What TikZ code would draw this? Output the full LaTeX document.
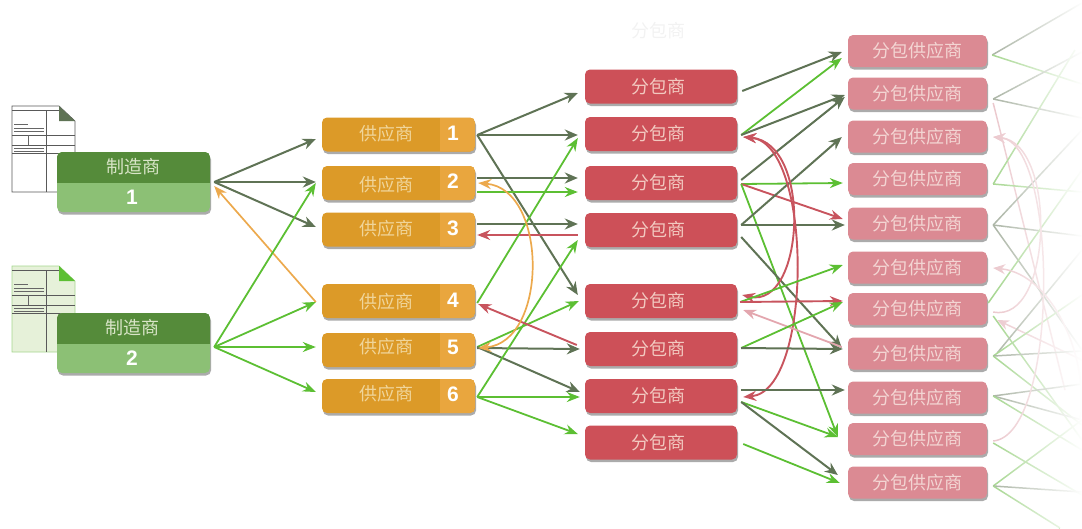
\documentclass[tikz,border=0pt]{standalone}
\usepackage{fontspec}
\usepackage{xcolor}
\usepackage{tikz}
\usetikzlibrary{arrows.meta,shadows,fadings}
\newfontfamily\cjk{Noto Sans CJK SC}[Scale=1]
\newfontfamily\numfont{Liberation Sans}
\definecolor{C558B3A}{HTML}{558B3A}
\definecolor{C8CC075}{HTML}{8CC075}
\definecolor{CDC9A28}{HTML}{DC9A28}
\definecolor{CE9A63E}{HTML}{E9A63E}
\definecolor{CCD5058}{HTML}{CD5058}
\definecolor{CDB8A93}{HTML}{DB8A93}
\definecolor{C5F7355}{HTML}{5F7355}
\definecolor{C5CBF33}{HTML}{5CBF33}
\definecolor{CC8545E}{HTML}{C8545E}
\definecolor{CECA94D}{HTML}{ECA94D}
\definecolor{CE3A6AE}{HTML}{E3A6AE}
\definecolor{CA9B3A3}{HTML}{A9B3A3}
\definecolor{CA5D68F}{HTML}{A5D68F}
\definecolor{CEBC7CC}{HTML}{EBC7CC}
\definecolor{CE6F1D9}{HTML}{E6F1D9}
\definecolor{CD9E5C8}{HTML}{D9E5C8}
\definecolor{CF0D59A}{HTML}{F0D59A}
\definecolor{CF2C9C0}{HTML}{F2C9C0}
\definecolor{CF3D5D3}{HTML}{F3D5D3}
\tikzset{
  boxbase/.style={rounded corners=5pt,minimum height=34pt,font=\cjk\fontsize{18}{20}\selectfont,
    drop shadow={shadow xshift=1pt,shadow yshift=-2.5pt,fill=black!60,opacity=0.55}},
  mfgbox/.style={boxbase,minimum width=153pt,minimum height=60pt,fill=C8CC075,
    path picture={\fill[C558B3A,sharp corners] (path picture bounding box.north west) rectangle ([yshift=-31pt]path picture bounding box.north east);}},
  supbox/.style={boxbase,minimum width=153pt,fill=CDC9A28,
    path picture={\fill[CE9A63E,sharp corners] ([xshift=-35pt]path picture bounding box.north east) rectangle (path picture bounding box.south east);}},
  subbox/.style={boxbase,minimum width=152pt,fill=CCD5058,text=CF2C9C0},
  subsupbox/.style={boxbase,minimum width=139pt,minimum height=32pt,fill=CDB8A93,text=CF3D5D3},
  mfglabel/.style={font=\cjk\fontsize{18}{20}\selectfont,text=CD9E5C8},
  suplabel/.style={font=\cjk\fontsize{18}{20}\selectfont,text=CF0D59A},
  numlabel/.style={font=\numfont\bfseries\fontsize{21}{22}\selectfont,text=white},
  tipboth/.style={{Stealth[length=13pt,width=10pt]}-{Stealth[length=13pt,width=10pt]}},
  darkline/.style={-{Stealth[length=13pt,width=11pt]},line width=2pt,draw=C5F7355},
  greenline/.style={-{Stealth[length=13pt,width=10pt]},line width=1.8pt,draw=C5CBF33},
  redline/.style={-{Stealth[length=13pt,width=10pt]},line width=1.9pt,draw=CC8545E},
  orangeline/.style={-{Stealth[length=13pt,width=10pt]},line width=1.7pt,draw=CECA94D},
  pinkline/.style={-{Stealth[length=13pt,width=10pt]},line width=1.8pt,draw=CE3A6AE},
  paledark/.style={-,line width=1.5pt,draw=CA9B3A3},
  palegreen/.style={-,line width=1.5pt,draw=CA5D68F},
  palepink/.style={-,line width=1.5pt,draw=CEBC7CC},
  palecurve/.style={{Stealth[length=12pt,width=10pt]}-,line width=1.5pt,draw=CEBC7CC},
  formrule/.style={line width=0.5pt,draw=black!60},
  formthick/.style={line width=0.8pt,draw=black!65},
}
\begin{document}
\begin{tikzpicture}[inner sep=0pt]
\useasboundingbox (0pt,0pt) rectangle (1082pt,-528pt);
% order forms
\begin{scope}
\path [fill=white,draw=black!65,line width=0.7pt] (12pt,-106pt)--(59pt,-106pt)--(75pt,-121pt)--(75pt,-192pt)--(12pt,-192pt)--cycle;
\path [fill=C5F7355] (59pt,-106pt)--(75pt,-121pt)--(59pt,-121pt)--cycle;
\path [formthick] (12pt,-110pt)--(59pt,-110pt);
\path [formthick] (46pt,-110pt)--(46pt,-192pt);
\path [formthick] (12pt,-135pt)--(75pt,-135pt);
\path [formthick] (12pt,-145pt)--(75pt,-145pt);
\path [formthick] (12pt,-153pt)--(75pt,-153pt);
\path [formrule] (28pt,-135pt)--(28pt,-145pt);
\path [formrule] (14pt,-124pt)--(28pt,-124pt);
\path [formrule] (14pt,-128pt)--(44pt,-128pt);
\path [formrule] (14pt,-131pt)--(44pt,-131pt);
\path [formrule] (14pt,-148pt)--(44pt,-148pt);
\path [formrule] (14pt,-151pt)--(44pt,-151pt);
\end{scope}
\begin{scope}[yshift=-160pt]
\path [fill=CE6F1D9,draw=CA5D68F,line width=0.7pt] (12pt,-106pt)--(59pt,-106pt)--(75pt,-121pt)--(75pt,-192pt)--(12pt,-192pt)--cycle;
\path [fill=C5CBF33] (59pt,-106pt)--(75pt,-121pt)--(59pt,-121pt)--cycle;
\path [formthick] (12pt,-110pt)--(59pt,-110pt);
\path [formthick] (46pt,-110pt)--(46pt,-192pt);
\path [formthick] (12pt,-135pt)--(75pt,-135pt);
\path [formthick] (12pt,-145pt)--(75pt,-145pt);
\path [formthick] (12pt,-153pt)--(75pt,-153pt);
\path [formrule] (28pt,-135pt)--(28pt,-145pt);
\path [formrule] (14pt,-124pt)--(28pt,-124pt);
\path [formrule] (14pt,-128pt)--(44pt,-128pt);
\path [formrule] (14pt,-131pt)--(44pt,-131pt);
\path [formrule] (14pt,-148pt)--(44pt,-148pt);
\path [formrule] (14pt,-151pt)--(44pt,-151pt);
\end{scope}
% manufacturers
\node (m1) [mfgbox,at={(133.5pt,-182pt)}] {};
\node (m2) [mfgbox,at={(133.5pt,-343pt)}] {};
\node (m1a) [mfglabel,at={(133pt,-167pt)}] {制造商};
\node (m1b) [numlabel,at={(132pt,-197pt)}] {1};
\node (m2a) [mfglabel,at={(132pt,-328pt)}] {制造商};
\node (m2b) [numlabel,at={(132pt,-358pt)}] {2};
% suppliers
\node (s1) [supbox,at={(398.5pt,-134.5pt)}] {};
\node (s2) [supbox,at={(398.5pt,-183pt)}] {};
\node (s3) [supbox,at={(398.5pt,-229.5pt)}] {};
\node (s4) [supbox,at={(398.5pt,-301pt)}] {};
\node (s5) [supbox,at={(398.5pt,-350pt)}] {};
\node (s6) [supbox,at={(398.5pt,-396pt)}] {};
\node (s1a) [suplabel,at={(386pt,-134pt)}] {供应商};
\node (s2a) [suplabel,at={(386pt,-185pt)}] {供应商};
\node (s3a) [suplabel,at={(386pt,-229pt)}] {供应商};
\node (s4a) [suplabel,at={(386pt,-302pt)}] {供应商};
\node (s5a) [suplabel,at={(386pt,-347pt)}] {供应商};
\node (s6a) [suplabel,at={(386pt,-394pt)}] {供应商};
\node (s1b) [numlabel,at={(453pt,-133pt)}] {1};
\node (s2b) [numlabel,at={(453pt,-181pt)}] {2};
\node (s3b) [numlabel,at={(453pt,-228pt)}] {3};
\node (s4b) [numlabel,at={(453pt,-300pt)}] {4};
\node (s5b) [numlabel,at={(453pt,-347pt)}] {5};
\node (s6b) [numlabel,at={(453pt,-394pt)}] {6};
% subcontractors
\node (t0) [font=\cjk\fontsize{18}{20}\selectfont,text=black!5,at={(658pt,-31pt)}] {分包商};
\node (t1) [subbox,at={(661pt,-86.5pt)}] {\hspace*{-6pt}分包商};
\node (t2) [subbox,at={(661pt,-134pt)}] {\hspace*{-6pt}分包商};
\node (t3) [subbox,at={(661pt,-183pt)}] {\hspace*{-6pt}分包商};
\node (t4) [subbox,at={(661pt,-230pt)}] {\hspace*{-6pt}分包商};
\node (t5) [subbox,at={(661pt,-301pt)}] {\hspace*{-6pt}分包商};
\node (t6) [subbox,at={(661pt,-349pt)}] {\hspace*{-6pt}分包商};
\node (t7) [subbox,at={(661pt,-396pt)}] {\hspace*{-6pt}分包商};
\node (t8) [subbox,at={(661pt,-442.5pt)}] {\hspace*{-6pt}分包商};
% sub-suppliers
\node (u1) [subsupbox,at={(917.5pt,-51pt)}] {分包供应商};
\node (u2) [subsupbox,at={(917.5pt,-93.5pt)}] {分包供应商};
\node (u3) [subsupbox,at={(917.5pt,-136.5pt)}] {分包供应商};
\node (u4) [subsupbox,at={(917.5pt,-179pt)}] {分包供应商};
\node (u5) [subsupbox,at={(917.5pt,-223.5pt)}] {分包供应商};
\node (u6) [subsupbox,at={(917.5pt,-267.5pt)}] {分包供应商};
\node (u7) [subsupbox,at={(917.5pt,-309pt)}] {分包供应商};
\node (u8) [subsupbox,at={(917.5pt,-353.5pt)}] {分包供应商};
\node (u9) [subsupbox,at={(917.5pt,-397.5pt)}] {分包供应商};
\node (u10) [subsupbox,at={(917.5pt,-439pt)}] {分包供应商};
\node (u11) [subsupbox,at={(917.5pt,-482.5pt)}] {分包供应商};
% manufacturer to supplier
\path [darkline]([shift={(4pt,0pt)}]m1.east)--([shift={(-6pt,-4.5pt)}]s1.west);
\path [darkline]([shift={(4pt,0pt)}]m1.east)--([shift={(-6pt,1pt)}]s2.west);
\path [darkline]([shift={(4pt,0pt)}]m1.east)--([shift={(-6pt,2.5pt)}]s3.west);
\path [orangeline]([shift={(-6pt,-1pt)}]s4.west)--([shift={(4pt,-4pt)}]m1.east);
\path [greenline]([shift={(4pt,-4pt)}]m2.east)--([shift={(-6pt,0pt)}]s2.west);
\path [greenline]([shift={(4pt,-4pt)}]m2.east)--([shift={(-6pt,-1pt)}]s4.west);
\path [greenline]([shift={(4pt,-4pt)}]m2.east)--([shift={(-6pt,3pt)}]s5.west);
\path [greenline]([shift={(4pt,-4pt)}]m2.east)--([shift={(-6pt,4pt)}]s6.west);
% supplier to subcontractor
\path [darkline]([shift={(2pt,-0.5pt)}]s1.east)--([shift={(-7pt,-6.5pt)}]t1.west);
\path [darkline]([shift={(2pt,-0.5pt)}]s1.east)--([shift={(-7pt,-1pt)}]t2.west);
\path [darkline]([shift={(2pt,-0.5pt)}]s1.east)--([shift={(-7pt,6pt)}]t5.west);
\path [darkline]([shift={(2pt,5pt)}]s2.east)--([shift={(-7pt,5pt)}]t3.west);
\path [greenline]([shift={(2pt,-9pt)}]s2.east)--([shift={(-7pt,-9pt)}]t3.west);
\path [darkline]([shift={(2pt,5.5pt)}]s3.east)--([shift={(-7pt,6pt)}]t4.west);
\path [redline]([shift={(-7pt,-5pt)}]t4.west)--([shift={(2pt,-5.5pt)}]s3.east);
\path [greenline]([shift={(2pt,-2pt)}]s4.east)--([shift={(-7pt,-4pt)}]t2.west);
\path [greenline]([shift={(2pt,3pt)}]s5.east)--([shift={(-6pt,0pt)}]t5.west);
\path [darkline]([shift={(2pt,2pt)}]s5.east)--([shift={(-5pt,0pt)}]t6.west);
\path [darkline]([shift={(2pt,3pt)}]s5.east)--([shift={(-5pt,4pt)}]t7.west);
\path [greenline]([shift={(2pt,-1pt)}]s6.east)--([shift={(-7pt,-10pt)}]t4.west);
\path [greenline]([shift={(2pt,-1pt)}]s6.east)--([shift={(-5pt,-1pt)}]t7.west);
\path [greenline]([shift={(2pt,-1pt)}]s6.east)--([shift={(-7pt,8.5pt)}]t8.west);
\path [redline]([shift={(-8pt,4pt)}]t6.west)--([shift={(3pt,-3pt)}]s4.east);
\path [orangeline,tipboth]([shift={(3pt,0pt)}]s2.east) .. controls +(70pt,-6pt) and +(70pt,6pt) .. ([shift={(3pt,2pt)}]s5.east);
% subcontractor to sub-supplier
\path [darkline]([shift={(5pt,-4.5pt)}]t1.east)--([shift={(-6pt,-1pt)}]u1.west);
\path [greenline]([shift={(4pt,-1pt)}]t2.east)--([shift={(-6pt,-7pt)}]u1.west);
\path [darkline]([shift={(4pt,-1pt)}]t2.east)--([shift={(-3pt,-1.5pt)}]u2.west);
\path [darkline]([shift={(4pt,3pt)}]t3.east)--([shift={(-3pt,-3.5pt)}]u2.west);
\path [greenline]([shift={(4pt,-1pt)}]t3.east)--([shift={(-5pt,-4pt)}]u4.west);
\path [redline]([shift={(4pt,-1pt)}]t3.east)--([shift={(-5pt,4.5pt)}]u5.west);
\path [greenline]([shift={(4pt,-1pt)}]t3.east)--([shift={(-10pt,2pt)}]u10.west);
\path [darkline]([shift={(4pt,5pt)}]t4.east)--([shift={(-6pt,-0.5pt)}]u3.west);
\path [darkline]([shift={(4pt,5pt)}]t4.east)--([shift={(-3pt,-1.5pt)}]u5.west);
\path [darkline]([shift={(4pt,-7pt)}]t4.east)--([shift={(-6pt,5.5pt)}]u8.west);
\path [redline,tipboth]([shift={(6pt,-3pt)}]t2.east) .. controls +(70pt,-6pt) and +(62pt,-14pt) .. ([shift={(5pt,6pt)}]t5.east);
\path [redline,tipboth]([shift={(6pt,-3pt)}]t2.east) .. controls +(70pt,-6pt) and +(70pt,6pt) .. ([shift={(6pt,-1pt)}]t7.east);
\path [greenline]([shift={(3pt,-1pt)}]t5.east)--([shift={(-5pt,2.5pt)}]u6.west);
\path [redline]([shift={(3pt,-1pt)}]t5.east)--([shift={(-5pt,8pt)}]u7.west);
\path [pinkline]([shift={(-6pt,6.5pt)}]u8.west)--([shift={(6pt,-9pt)}]t5.east);
\path [greenline]([shift={(4pt,1pt)}]t6.east)--([shift={(-5pt,7pt)}]u7.west);
\path [darkline]([shift={(4pt,1pt)}]t6.east)--([shift={(-5pt,4.5pt)}]u8.west);
\path [darkline]([shift={(4pt,6pt)}]t7.east)--([shift={(-3pt,7.5pt)}]u9.west);
\path [greenline]([shift={(4pt,-6pt)}]t7.east)--([shift={(-10pt,2pt)}]u10.west);
\path [darkline]([shift={(4pt,-6pt)}]t7.east)--([shift={(-10pt,7.5pt)}]u11.west);
\path [greenline]([shift={(6pt,-1.5pt)}]t8.east)--([shift={(-8pt,-0.5pt)}]u11.west);
% outgoing lines that fade away
\coordinate (f1) at (1082pt,-3pt);
\coordinate (f2) at (1082pt,-84pt);
\coordinate (f3) at (1082pt,-52pt);
\coordinate (f4) at (1082pt,-118pt);
\coordinate (f5) at (1065pt,-390pt);
\coordinate (f6) at (1075pt,-50pt);
\coordinate (f7) at (1082pt,-192pt);
\coordinate (f8) at (1082pt,-130pt);
\coordinate (f9) at (1082pt,-236pt);
\coordinate (f10) at (1082pt,-350pt);
\coordinate (f11) at (1082pt,-170pt);
\coordinate (f12) at (1082pt,-440pt);
\coordinate (f13) at (1082pt,-360pt);
\coordinate (f14) at (1082pt,-250pt);
\coordinate (f15) at (1082pt,-295pt);
\coordinate (f16) at (1082pt,-351pt);
\coordinate (f17) at (1082pt,-425pt);
\coordinate (f18) at (1082pt,-384pt);
\coordinate (f19) at (1082pt,-420pt);
\coordinate (f20) at (1082pt,-450pt);
\coordinate (f21) at (1082pt,-495pt);
\coordinate (f22) at (1082pt,-420pt);
\coordinate (f23) at (1082pt,-492pt);
\coordinate (f24) at (1060pt,-528pt);
\coordinate (f25) at (1080pt,-420pt);
\path [paledark]([shift={(5pt,-4pt)}]u1.east)--(f1);
\path [palegreen]([shift={(5pt,-4pt)}]u1.east)--(f2);
\path [paledark]([shift={(6pt,-5.5pt)}]u2.east)--(f3);
\path [paledark]([shift={(6pt,-5.5pt)}]u2.east)--(f4);
\path [palepink]([shift={(6pt,-9.5pt)}]u2.east)--(f5);
\path [palegreen]([shift={(6pt,-5pt)}]u4.east)--(f6);
\path [palegreen]([shift={(6pt,-5pt)}]u4.east)--(f7);
\path [paledark]([shift={(6pt,-1.5pt)}]u5.east)--(f8);
\path [paledark]([shift={(6pt,-1.5pt)}]u5.east)--(f9);
\path [paledark]([shift={(6pt,-1.5pt)}]u5.east)--(f10);
\path [palegreen]([shift={(1pt,6pt)}]u7.east)--(f11);
\path [palegreen]([shift={(6pt,-7pt)}]u7.east)--(f12);
\path [palecurve]([shift={(10pt,-11pt)}]u7.east)--(f13);
\path [paledark]([shift={(10pt,0.5pt)}]u8.east)--(f14);
\path [palegreen]([shift={(6pt,-2.5pt)}]u8.east)--(f15);
\path [paledark]([shift={(6pt,-2.5pt)}]u8.east)--(f16);
\path [palegreen]([shift={(6pt,-2.5pt)}]u8.east)--(f17);
\path [paledark]([shift={(6pt,1.5pt)}]u9.east)--(f18);
\path [paledark]([shift={(6pt,1.5pt)}]u9.east)--(f19);
\path [palegreen]([shift={(6pt,1.5pt)}]u9.east)--(f20);
\path [palegreen]([shift={(6pt,-4pt)}]u10.east)--(f21);
\path [palegreen]([shift={(6pt,-3.5pt)}]u11.east)--(f22);
\path [paledark]([shift={(6pt,-3.5pt)}]u11.east)--(f23);
\path [palegreen]([shift={(6pt,-3.5pt)}]u11.east)--(f24);
\path [palecurve]([shift={(6pt,-0.5pt)}]u3.east) .. controls +(66pt,-6pt) and +(66pt,6pt) .. ([shift={(6pt,-2pt)}]u10.east);
\path [palecurve]([shift={(6pt,-0.5pt)}]u3.east) .. controls +(64pt,-6pt) and +(60pt,-12pt) .. ([shift={(6pt,-3pt)}]u7.east);
\path [palecurve]([shift={(6pt,-0.5pt)}]u6.east) .. controls +(60pt,-6pt) and +(10pt,60pt) .. (f25);
\fill [white,path fading=west] (990pt,0pt) rectangle (1082pt,-528pt);
\end{tikzpicture}
\end{document}
